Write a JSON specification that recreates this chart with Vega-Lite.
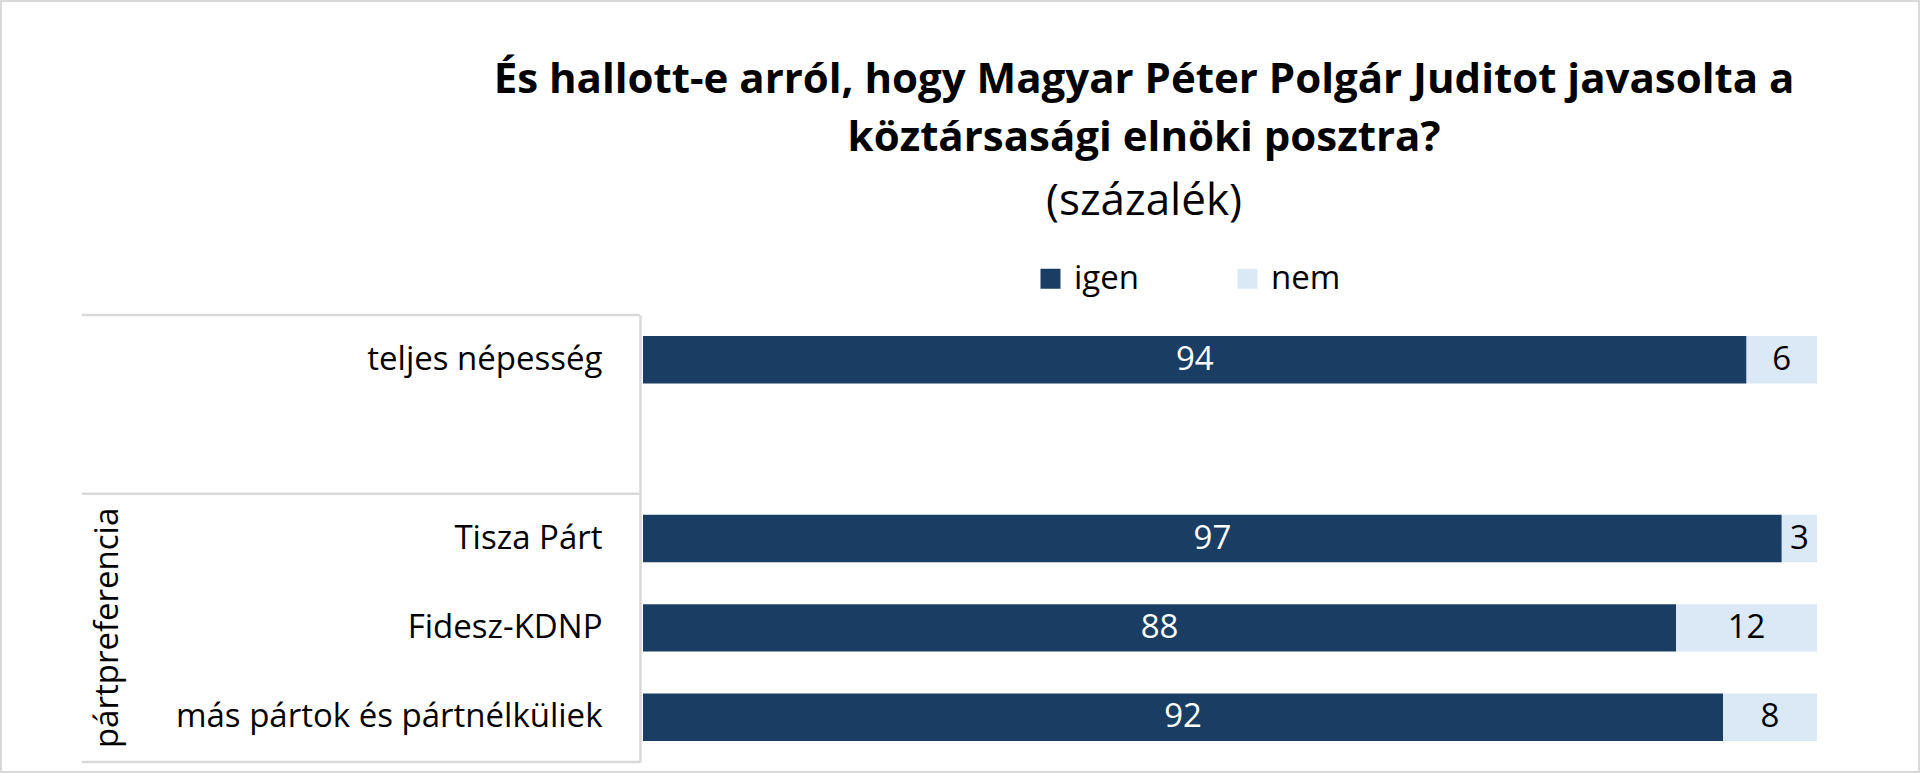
{
  "$schema": "https://vega.github.io/schema/vega-lite/v6.json",
  "background": "white",
  "autosize": {"type": "none"},
  "padding": {"left": 643, "top": 315, "right": 103, "bottom": 11},
  "width": 1174,
  "height": 447,
  "title": {
    "text": ["És hallott-e arról, hogy Magyar Péter Polgár Juditot javasolta a", "köztársasági elnöki posztra?"],
    "subtitle": "(százalék)",
    "anchor": "middle",
    "frame": "group",
    "dx": -86,
    "offset": -227,
    "font": "Open Sans",
    "fontSize": 42,
    "fontWeight": "bold",
    "lineHeight": 58,
    "color": "black",
    "subtitleFont": "Open Sans",
    "subtitleFontSize": 44,
    "subtitleColor": "black",
    "subtitlePadding": 20
  },
  "data": {
    "values": [
      {"cat": "teljes népesség", "answer": "igen", "value": 94},
      {"cat": "teljes népesség", "answer": "nem", "value": 6},
      {"cat": "Tisza Párt", "answer": "igen", "value": 97},
      {"cat": "Tisza Párt", "answer": "nem", "value": 3},
      {"cat": "Fidesz-KDNP", "answer": "igen", "value": 88},
      {"cat": "Fidesz-KDNP", "answer": "nem", "value": 12},
      {"cat": "más pártok és pártnélküliek", "answer": "igen", "value": 92},
      {"cat": "más pártok és pártnélküliek", "answer": "nem", "value": 8}
    ]
  },
  "transform": [
    {"calculate": "datum.answer === 'igen' ? 0 : 1", "as": "order"},
    {"stack": "value", "groupby": ["cat"], "sort": [{"field": "order"}], "as": ["v0", "v1"]},
    {"calculate": "(datum.v0 + datum.v1) / 2", "as": "mid"}
  ],
  "encoding": {
    "y": {
      "field": "cat",
      "type": "nominal",
      "scale": {
        "domain": ["teljes népesség", " ", "Tisza Párt", "Fidesz-KDNP", "más pártok és pártnélküliek"],
        "paddingInner": 0,
        "paddingOuter": 0
      },
      "axis": {
        "title": null,
        "ticks": false,
        "offset": 3,
        "domainColor": "#d9d9d9",
        "domainWidth": 2.5,
        "labelFont": "Open Sans",
        "labelFontSize": 33,
        "labelColor": "black",
        "labelPadding": 38,
        "labelLimit": 600
      }
    }
  },
  "layer": [
    {
      "mark": {"type": "bar", "height": {"band": 0.53}},
      "encoding": {
        "x": {"field": "v0", "type": "quantitative", "scale": {"domain": [0, 100]}, "axis": null},
        "x2": {"field": "v1"},
        "color": {
          "field": "answer",
          "type": "nominal",
          "scale": {"domain": ["igen", "nem"], "range": ["#1a3d63", "#dbe8f5"]},
          "legend": {
            "title": null,
            "orient": "none",
            "direction": "horizontal",
            "legendX": 391,
            "legendY": -53,
            "symbolType": "square",
            "symbolSize": 400,
            "symbolStrokeWidth": 0,
            "labelFont": "Open Sans",
            "labelFontSize": 33,
            "labelColor": "black",
            "labelOffset": 7,
            "columnPadding": 91,
            "padding": 0
          }
        }
      }
    },
    {
      "mark": {"type": "text", "font": "Open Sans", "fontSize": 33},
      "encoding": {
        "x": {"field": "mid", "type": "quantitative"},
        "text": {"field": "value", "type": "quantitative"},
        "color": {"condition": {"test": "datum.answer === 'igen'", "value": "white"}, "value": "black"}
      }
    },
    {
      "data": {"values": [{"cat": "teljes népesség"}, {"cat": "Tisza Párt"}]},
      "transform": [],
      "mark": {"type": "rule", "color": "#d9d9d9", "strokeWidth": 2.5},
      "encoding": {
        "y": {"field": "cat", "type": "nominal", "bandPosition": 0},
        "x": {"datum": -47.8},
        "x2": {"datum": -0.26}
      }
    },
    {
      "data": {"values": [{"cat": "más pártok és pártnélküliek"}]},
      "transform": [],
      "mark": {"type": "rule", "color": "#d9d9d9", "strokeWidth": 2.5},
      "encoding": {
        "y": {"field": "cat", "type": "nominal", "bandPosition": 1},
        "x": {"datum": -47.8},
        "x2": {"datum": -0.26}
      }
    },
    {
      "data": {"values": [{"cat": "Fidesz-KDNP", "label": "pártpreferencia"}]},
      "transform": [],
      "mark": {"type": "text", "font": "Open Sans", "fontSize": 33, "angle": 270, "color": "black"},
      "encoding": {
        "y": {"field": "cat", "type": "nominal"},
        "x": {"datum": -45.6},
        "text": {"field": "label"}
      }
    },
    {
      "data": {"values": [{"top": "teljes népesség", "bottom": "más pártok és pártnélküliek"}]},
      "transform": [],
      "mark": {"type": "rect", "fill": null, "stroke": "#d9d9d9", "strokeWidth": 4},
      "encoding": {
        "y": {"field": "top", "type": "nominal", "bandPosition": -3.524},
        "y2": {"field": "bottom", "bandPosition": 1.123},
        "x": {"datum": -54.77},
        "x2": {"datum": 108.77}
      }
    }
  ],
  "config": {
    "view": {"stroke": null}
  }
}
